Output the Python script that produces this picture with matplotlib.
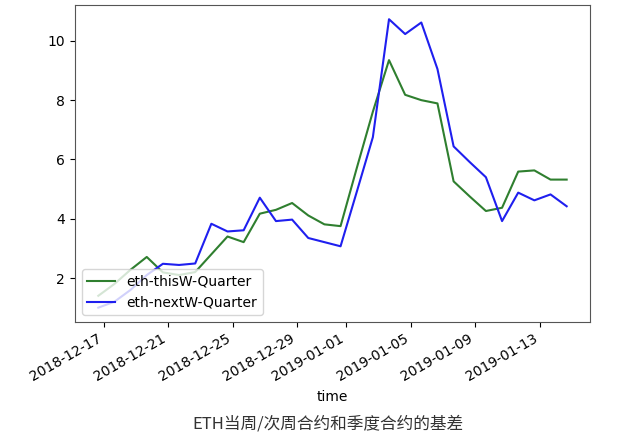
import pandas as pd
import matplotlib
matplotlib.use("Agg")
import matplotlib.pyplot as plt
import matplotlib.dates as mdates

# daily basis values, 2018-12-16 16:00 -> 2019-01-14 16:00
times = pd.date_range("2018-12-16 16:00", periods=30, freq="D")

this_week = [
    1.4, 1.8, 2.28, 2.71, 2.19, 2.1, 2.2, 2.8, 3.40, 3.21,
    4.17, 4.30, 4.53, 4.11, 3.81, 3.75, 5.70, 7.61, 9.35, 8.18,
    8.00, 7.89, 5.26, 4.75, 4.26, 4.37, 5.59, 5.63, 5.32, 5.32,
]

next_week = [
    1.0, 1.2, 1.6, 2.1, 2.48, 2.44, 2.49, 3.83, 3.57, 3.61,
    4.71, 3.92, 3.97, 3.35, 3.21, 3.07, 4.90, 6.75, 10.73, 10.23,
    10.62, 9.05, 6.44, 5.91, 5.40, 3.92, 4.88, 4.62, 4.82, 4.42,
]

df = pd.DataFrame(
    {
        "eth-thisW-Quarter": this_week,
        "eth-nextW-Quarter": next_week,
    },
    index=times,
)

fig = plt.figure(figsize=(6.4, 4.37), dpi=100)
ax = fig.add_axes([0.117, 0.263, 0.805, 0.726])

ax.plot(df.index, df["eth-thisW-Quarter"], color="#2f7f2f", lw=1.5,
        label="eth-thisW-Quarter")
ax.plot(df.index, df["eth-nextW-Quarter"], color="#1f1fef", lw=1.5,
        label="eth-nextW-Quarter")

ax.xaxis.set_major_locator(mdates.DayLocator(bymonthday=[1, 5, 9, 13, 17, 21, 25, 29]))
ax.xaxis.set_major_formatter(mdates.DateFormatter("%Y-%m-%d"))
for lbl in ax.get_xticklabels():
    lbl.set_rotation(30)
    lbl.set_ha("right")

ax.set_yticks([2, 4, 6, 8, 10])
ax.set_xlabel("time")
ax.legend(loc="lower left")

for sp in ax.spines.values():
    sp.set_color("#555555")

fig.text(0.513, 0.029, "ETH当周/次周合约和季度合约的基差",
         family=["Noto Sans CJK SC", "DejaVu Sans"], fontsize=12,
         color="#333333", ha="center", va="center")

fig.savefig("out.png", dpi=100)
